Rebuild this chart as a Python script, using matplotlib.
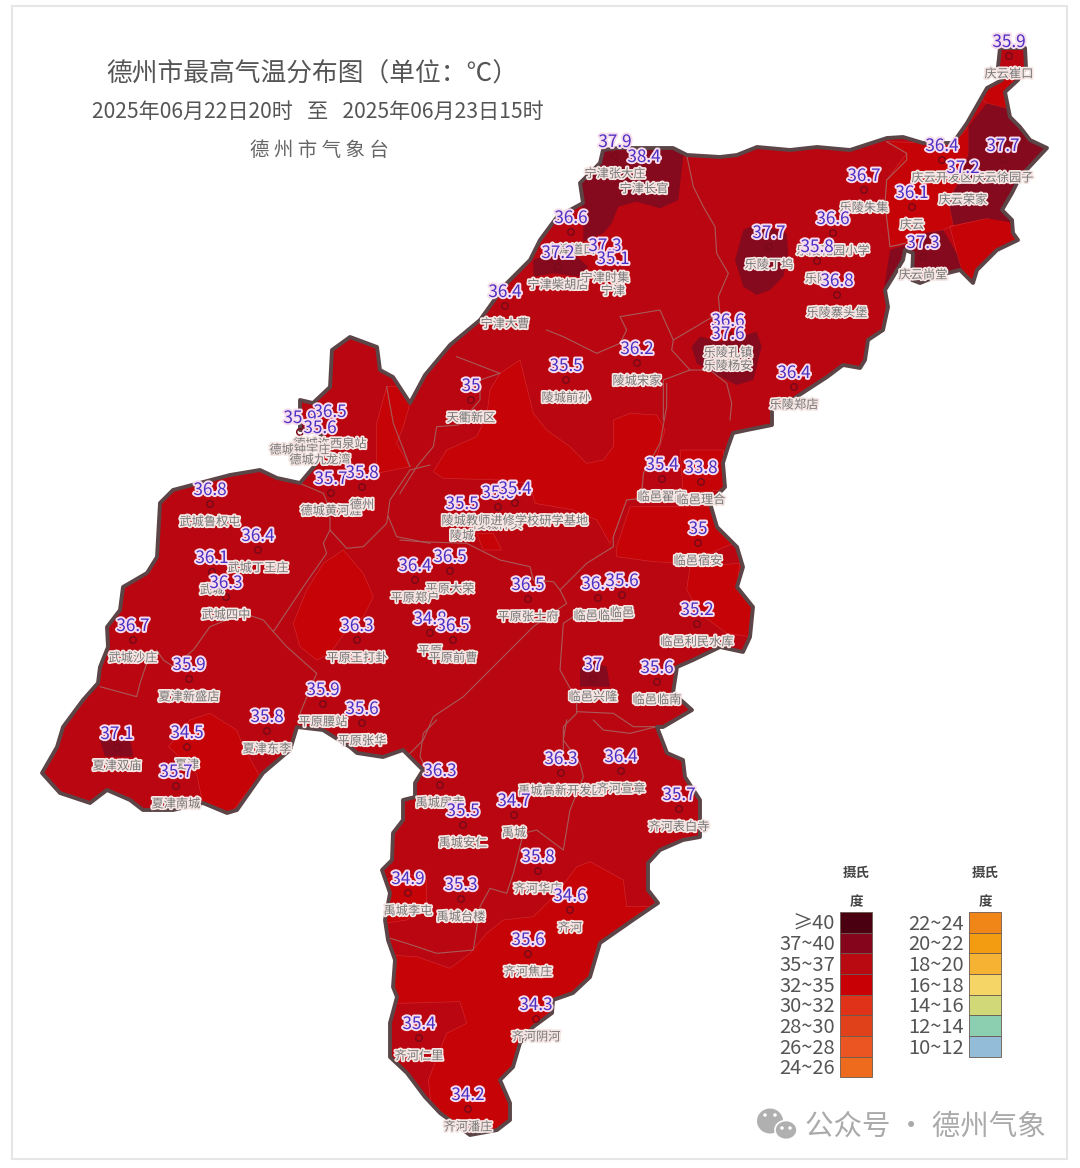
import numpy as np
import matplotlib
matplotlib.use('Agg')
import matplotlib.pyplot as plt
import matplotlib.patheffects as pe
from matplotlib.patches import Polygon, Rectangle, Ellipse

plt.rcParams['font.family'] = ['Noto Sans CJK SC', 'DejaVu Sans']

# map geometry is traced in image pixels (x right, y down)
outline = [(1000,48),(1025,48),(1026,67),(1018,80),(1005,92),(1010,117),(1020,127),(1030,140),(1047,148),
    (1033,163),(1020,177),(1012,193),(1002,210),(1012,220),(1013,233),(1018,240),(997,250),(977,270),(973,283),
    (960,270),(940,275),(920,283),(912,280),(913,253),(905,250),(903,260),(893,277),(885,290),(888,307),(883,330),
    (868,340),(865,360),(860,368),(843,365),(827,377),(807,390),(787,403),(772,410),(772,425),(747,430),(733,433),
    (728,447),(723,463),(725,487),(710,503),(717,527),(737,547),(743,567),(737,587),(753,607),(750,637),(743,652),
    (720,647),(693,660),(677,667),(673,693),(692,710),(663,727),(657,727),(667,753),(683,760),(685,777),(700,800),
    (700,837),(683,840),(660,850),(648,863),(648,890),(658,903),(633,920),(600,943),(590,977),(573,993),(553,1000),
    (552,1013),(533,1027),(520,1043),(513,1067),(500,1080),(510,1103),(510,1120),(497,1130),(470,1135),(440,1113),
    (425,1097),(407,1073),(390,1057),(390,1023),(397,997),(393,987),(395,960),(388,940),(385,920),(390,893),(382,870),
    (392,860),(393,833),(403,820),(403,800),(415,797),(415,783),(423,770),(413,760),(403,750),(383,757),(357,753),
    (350,747),(323,730),(297,727),(290,750),(263,773),(237,810),(227,813),(203,803),(173,810),(143,810),(130,800),
    (107,790),(90,803),(60,793),(42,773),(57,747),(63,727),(83,700),(98,683),(100,667),(108,647),(107,627),(120,610),
    (123,587),(147,573),(157,557),(160,503),(173,490),(230,475),(260,470),(277,478),(300,483),(317,463),(330,445),
    (318,432),(300,430),(300,400),(313,403),(330,387),(332,350),(350,337),(377,347),(380,370),(393,377),(410,403),
    (425,375),(450,345),(480,320),(505,285),(530,260),(540,240),(557,217),(583,203),(580,183),(600,163),(603,150),
    (618,148),(673,148),(687,155),(720,157),(737,155),(757,147),(790,150),(817,147),(850,150),(887,138),(903,137),
    (923,143),(953,143),(967,123),(987,88),(1002,80),(998,67)]


def crop(x0, y0, pts):
    return [(x0 + x / 3, y0 + y / 3) for x, y in pts]


# 32~35 areas
light_areas = [
    crop(400, 350, [(360,30),(400,190),(440,240),(510,290),(560,340),(610,330),(640,290),(640,210),(690,190),(770,195),
        (795,240),(770,320),(730,370),(720,445),(680,450),(640,560),(630,580),(590,510),(520,480),(405,460),(390,400),
        (300,390),(130,385),(100,365),(140,300),(230,260),(260,200),(270,120),(300,70)]),
    crop(400, 350, [(650,590),(690,470),(940,470),(1000,580),(860,640),(760,635),(650,620)]),
    crop(400, 350, [(840,300),(970,300),(975,420),(850,430)]),
    crop(400, 350, [(870,650),(1020,640),(1010,710),(1060,770),(1050,860),(980,850),(900,790),(860,720)]),
    crop(400, 350, [(230,550),(280,550),(305,600),(250,600)]),
    crop(30, 330, [(790,880),(830,780),(880,700),(940,660),(1000,730),(1030,800),(1000,860),(950,900),(900,970),(860,990),(810,950)]),
    crop(30, 330, [(415,1250),(480,1170),(540,1150),(620,1200),(640,1250),(690,1340),(640,1400),(590,1470),(520,1430),(500,1330),(460,1290)]),
    crop(30, 330, [(1040,280),(1070,170),(1110,170),(1140,220),(1120,290),(1100,340),(1140,410),(1040,430)]),
    crop(370, 720, [(50,705),(140,710),(240,745),(300,700),(350,640),(400,600),(490,590),(560,520),(620,440),(660,425),(760,480),
        (770,560),(900,560),(800,800),(500,1300),(200,1300),(175,1080),(230,940),(290,910),(270,845),(85,850),(40,850)]),
    crop(370, 720, [(45,480),(110,460),(170,480),(170,550),(110,600),(45,610)]),
    crop(540, 20, [(1040,365),(1100,400),(1040,480),(1035,550),(1050,680),(1095,670),(1115,650),(1210,630),(1240,615),(1225,540),
        (1260,480),(1285,400),(1285,320),(1240,370)]),
    crop(540, 20, [(1320,230),(1340,170),(1420,170),(1400,265),(1340,250)]),
    crop(540, 20, [(1230,620),(1340,595),(1415,600),(1450,660),(1300,810),(1265,750),(1250,700)]),
]
# 37~40 areas
dark_areas = [
    crop(540, 20, [(110,490),(170,430),(180,370),(420,370),(430,405),(415,540),(360,565),(290,545),(235,560),(215,610),(190,640),(130,665),(130,620),(125,550)]),
    crop(540, 20, [(-20,720),(30,700),(100,700),(145,740),(120,770),(40,760),(-20,770)]),
    crop(540, 20, [(610,630),(650,610),(740,640),(745,700),(730,770),(690,810),(650,825),(610,800),(585,720)]),
    crop(540, 20, [(455,980),(480,950),(540,965),(600,950),(650,935),(665,980),(640,1080),(590,1095),(520,1060),(470,1030)]),
    crop(540, 20, [(1285,320),(1340,250),(1400,265),(1420,280),(1540,385),(1440,480),(1415,520),(1385,570),(1430,610),(1340,595),(1240,615),(1225,540),(1260,480),(1285,400)]),
    crop(540, 20, [(1100,720),(1150,640),(1210,630),(1250,700),(1265,750),(1200,765),(1100,810)]),
    crop(540, 20, [(1050,690),(1110,670),(1100,780),(1030,820)]),
    crop(400, 350, [(540,960),(560,930),(620,950),(630,1010),(540,1010)]),
    crop(30, 330, [(210,1230),(300,1225),(310,1280),(225,1280)]),
    crop(30, 330, [(790,280),(820,280),(825,315),(790,320)]),
]
# county boundaries
borders = [
    crop(540, 20, [(440,405),(460,500),(490,560),(525,620),(530,700),(565,760),(535,830),(540,880),(510,895),(400,960),(395,990),(450,1050),(510,1050),(560,1090),(575,1150),(570,1200)]),
    crop(540, 20, [(1040,365),(1100,400),(1100,420),(1040,480),(1035,550),(1050,680),(1095,670)]),
    crop(540, 20, [(20,930),(70,950),(170,1000),(240,970),(260,930),(240,890),(360,870),(400,960)]),
    crop(540, 20, [(450,1050),(370,1080),(370,1200)]),
    crop(400, 350, [(800,100),(800,170),(780,280),(730,370),(725,445),(680,450),(640,560),(640,590),(560,640),(480,720),(500,760),(400,830),(300,930),(190,1040),(100,1100),(70,1170),(0,1240)]),
    crop(400, 350, [(0,570),(60,575),(200,580),(300,630),(390,650),(400,690),(460,695),(480,720)]),
    crop(400, 350, [(0,430),(50,350),(100,290),(110,230),(175,225),(240,150),(240,90),(300,70),(170,20)]),
    crop(400, 350, [(520,800),(490,820),(480,960),(530,1050),(530,1090),(490,1130),(490,1200)]),
    crop(400, 350, [(530,1085),(640,1090),(700,1130),(770,1130)]),
    crop(370, 720, [(200,0),(160,40),(150,110),(160,130)]),
    crop(370, 720, [(590,0),(580,60),(630,130),(640,170),(600,270),(580,390),(540,360),(500,330),(460,340),(430,460),(410,520),(360,505),(330,560),(310,690),(200,700),(110,670),(60,655)]),
    crop(370, 720, [(670,0),(700,30),(780,40),(860,20)]),
    crop(30, 330, [(1200,405),(1140,420),(1080,510),(1070,580),(1000,650),(950,655),(900,600),(880,640),(890,670),(820,770),(730,905),(700,870),(640,850),(540,890),(490,960),(430,1010),(400,990),(380,960)]),
    crop(30, 330, [(730,905),(770,950),(860,1030),(810,1150)]),
    crop(30, 330, [(900,600),(900,540),(880,490),(810,460)]),
    crop(30, 330, [(1075,560),(1100,620),(1200,640)]),
    crop(30, 330, [(350,1000),(330,1060),(320,1100),(210,1070)]),
    crop(30, 330, [(1140,410),(1090,280),(1070,170)]),
]

station_names = ['庆云崔口','宁津张大庄','宁津长官','宁津道口','宁津柴胡店','宁津时集','宁津','宁津大曹','乐陵朱集','乐陵花园小学',
    '乐陵','乐陵寨头堡','乐陵丁坞','乐陵孔镇','乐陵杨安','乐陵郑店','陵城宋家','陵城前孙','庆云开发区','庆云荣家','庆云徐园子','庆云','庆云尚堂',
    '德城许西泉站','德城钟宇庄','德城九龙湾','德城黄河涯','德州','武城鲁权屯','武城丁王庄','武城','武城四中','武城沙庄','夏津新盛店',
    '平原王打卦','平原腰站','平原张华','夏津东李','夏津双庙','夏津','夏津南城',
    '天衢新区','陵城','陵城神头','陵城教师进修学校研学基地','平原大荣','平原郑户','平原张士府','平原','平原前曹','临邑临盘','临邑','临邑翟家','临邑理合',
    '临邑宿安','临邑利民水库','临邑兴隆','临邑临南',
    '禹城房寺','禹城安仁','禹城','禹城高新开发区','齐河宣章','齐河表白寺','齐河华店','禹城李屯','禹城台楼','齐河','齐河焦庄','齐河阴河','齐河仁里','齐河潘庄']
station_values = [35.9,37.9,38.4,36.6,37.2,37.3,35.1,36.4,36.7,36.6,
    35.8,36.8,37.7,36.6,37.6,36.4,36.2,35.5,36.4,37.2,37.7,36.1,37.3,
    36.5,35.9,35.6,35.7,35.8,36.8,36.4,36.1,36.3,36.7,35.9,
    36.3,35.9,35.6,35.8,37.1,34.5,35.7,
    35,35.5,35.6,35.4,36.5,36.4,36.5,34.8,36.5,36.4,35.6,35.4,33.8,
    35,35.2,37,35.6,
    36.3,35.5,34.7,36.3,36.4,35.7,35.8,34.9,35.3,34.6,35.6,34.3,35.4,34.2]
station_x = [1009,615,644,571,558,605,613,505,864,833,
    817,837,769,728,728,794,637,566,942,963,1003,912,923,
    330,300,320,331,362,210,258,212,226,133,189,
    357,323,362,267,117,187,176,
    471,462,498,515,450,415,528,430,453,598,622,662,701,
    698,697,593,657,
    440,463,514,561,621,679,538,408,461,570,528,536,419,468]
station_y = [56,156,171,232,267,260,273,306,190,233,
    261,295,247,335,348,387,363,380,160,182,160,207,257,
    426,432,442,493,487,504,550,572,597,640,679,
    640,704,723,731,748,747,786,
    400,518,507,503,571,580,599,633,640,598,595,479,482,
    543,624,679,682,
    785,825,815,773,771,809,871,893,899,910,954,1019,1038,1109]

legend_left = ['≥40','37~40','35~37','32~35','30~32','28~30','26~28','24~26']
colors_left = ['#4a0010','#85061c','#b80a10','#c80005','#df3218','#e0401a','#ea5522','#ee6a1c']
legend_right = ['22~24','20~22','18~20','16~18','14~16','12~14','10~12']
colors_right = ['#f08518','#f39c12','#f6b232','#f5d565','#d0d878','#8ccfb0','#93bcd8']

MAIN = '#ba0610'
LIGHT = '#c60307'
DARK = '#850a1e'

fig = plt.figure(figsize=(10.8, 11.68), dpi=100)
ax = fig.add_axes([0, 0, 1, 1])
ax.set_xlim(0, 1080)
ax.set_ylim(1168, 0)
ax.axis('off')

ax.add_patch(Rectangle((12, 6), 1055, 1153, fc='white', ec='#e6e6e6', lw=1.5, zorder=0))

land = Polygon(outline, closed=True, fc=MAIN, ec='none', zorder=1)
ax.add_patch(land)
for pts in light_areas:
    p = Polygon(pts, closed=True, fc=LIGHT, ec='#d43034', lw=0.4, zorder=2)
    ax.add_patch(p)
    p.set_clip_path(land)
for pts in dark_areas:
    p = Polygon(pts, closed=True, fc=DARK, ec='none', zorder=3)
    ax.add_patch(p)
    p.set_clip_path(land)
for pts in borders:
    xs, ys = zip(*pts)
    l, = ax.plot(xs, ys, color='#a85a5a', lw=0.8, zorder=4)
    l.set_clip_path(land)
ax.add_patch(Polygon(outline, closed=True, fc='none', ec='#5c4547', lw=2.8, joinstyle='round', zorder=5))

ax.scatter(station_x, station_y, s=22, facecolors='none', edgecolors='#7a0a18', linewidths=1.1, zorder=6)
for x, y, name in zip(station_x, station_y, station_names):
    ax.text(x, y + 18, name, ha='center', va='center', fontsize=8.8, color='#777777', zorder=7,
            path_effects=[pe.withStroke(linewidth=2.5, foreground='#f5e6e4')])
for x, y, v in zip(station_x, station_y, station_values):
    ax.text(x, y - 14, f'{v:g}', ha='center', va='center', fontsize=12.3, fontweight='medium', color='#4a2fc4', zorder=8,
            path_effects=[pe.withStroke(linewidth=2.8, foreground='#f6dcec')])

# titles
ax.text(312, 75, '德州市最高气温分布图（单位：℃）', ha='center', va='center', fontsize=18.5, color='#555555')
ax.text(318, 112, '2025年06月22日20时   至   2025年06月23日15时', ha='center', va='center', fontsize=15.2, color='#555555')
ax.text(319, 151, '德 州 市 气 象 台', ha='center', va='center', fontsize=14, color='#666666')

# legend columns
for x0, labels, cols in [(840, legend_left, colors_left), (969, legend_right, colors_right)]:
    for i, (lab, c) in enumerate(zip(labels, cols)):
        ax.add_patch(Rectangle((x0, 912 + i * 20.67), 32, 20.67, fc=c, ec='#6a5a50', lw=0.6, zorder=3))
        ax.text(x0 - 5, 924 + i * 20.67, lab, ha='right', va='center', fontsize=14.5, color='#555555')
    ax.text(x0 + 16, 873, '摄氏', ha='center', va='center', fontsize=9.7, fontweight='bold', color='#444444')
    ax.text(x0 + 16, 902, '度', ha='center', va='center', fontsize=9.7, fontweight='bold', color='#444444')

# watermark
ax.add_patch(Ellipse((770, 1121), 26, 25, fc='#b0b0b0', ec='none'))
ax.add_patch(Ellipse((786, 1130), 22, 19, fc='#b0b0b0', ec='white', lw=1.2))
for ex, ey in [(765, 1115), (775, 1115), (782, 1128), (790, 1128)]:
    ax.add_patch(Ellipse((ex, ey), 3.5, 3.5, fc='white', ec='none'))
ax.text(925, 1127, '公众号 · 德州气象', ha='center', va='center', fontsize=20.5, color='#aaaaaa')

fig.savefig('out.png', dpi=100)
